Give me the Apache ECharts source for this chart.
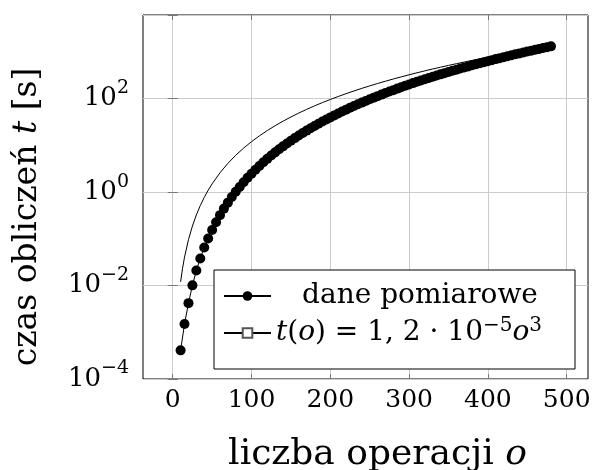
<!DOCTYPE html>
<html><head><meta charset="utf-8">
<script src="https://cdn.jsdelivr.net/npm/echarts@6/dist/echarts.min.js"></script>
<style>html,body{margin:0;padding:0;background:#fff}#c{width:595px;height:470px}</style>
</head><body><div id="c"></div>
<script>
// ---- data ----
const measuredOps = [10,15,20,25,30,35,40,45,50,55,60,65,70,75,80,85,90,95,100,105,110,115,120,125,130,135,140,145,150,155,160,165,170,175,180,185,190,195,200,205,210,215,220,225,230,235,240,245,250,255,260,265,270,275,280,285,290,295,300,305,310,315,320,325,330,335,340,345,350,355,360,365,370,375,380,385,390,395,400,405,410,415,420,425,430,435,440,445,450,455,460,465,470,475,480];
const measuredTimes = [0.00041,0.0015,0.0042,0.0101,0.021,0.038,0.065,0.102,0.155,0.227,0.321,0.443,0.595,0.785,1.02,1.29,1.63,2.02,2.48,3.01,3.63,4.34,5.14,6.06,7.08,8.24,9.53,11.0,12.6,14.3,16.3,18.4,20.7,23.3,26.0,29.1,32.3,35.9,39.7,43.8,48.2,53.0,58.1,63.6,69.4,75.6,82.3,89.4,96.9,105,113,122,132,142,152,164,175,188,201,215,229,244,260,277,294,312,331,351,372,394,417,440,465,490,517,545,574,604,635,667,701,736,772,809,848,888,930,973,1017,1063,1110,1160,1210,1262,1316];
const fitOps = [10,12.5,15,20,25,30,35,40,45,50,60,70,80,90,100,110,120,130,140,150,160,170,180,190,200,210,220,230,240,250,260,270,280,290,300,310,320,330,340,350,360,370,380,390,400,410,420,430,440,450,460,470,480];
const fitTimes = [0.012,0.0234,0.0405,0.096,0.1875,0.324,0.5145,0.768,1.0935,1.5,2.592,4.116,6.144,8.748,12,15.97,20.74,26.36,32.93,40.5,49.15,58.96,69.98,82.31,96,111.1,127.8,146.0,165.9,187.5,210.9,236.2,263.4,292.7,324,357.5,393.2,431.2,471.6,514.5,559.9,607.8,658.5,711.8,768,827.1,889.0,954.1,1022,1094,1168,1246,1327];
const xTickValues = [0,100,200,300,400,500];
const yTickExponents = [-4,-2,0,2];
const legendLabels = ['dane pomiarowe', '{it|t}{n|(}{it|o}{n|) = 1, 2 · 10}{sup|−5}{it|o}{sup|3}'];
const xAxisTitle = '{n|liczba operacji }{it|o}';
const yAxisTitle = '{n|czas obliczeń }{it|t}{n| [s]}';

const FONT = 'DejaVu Serif';
const chart = echarts.init(document.getElementById('c'), null, {renderer: 'canvas'});

function richSet(size, lh) {
  return {
    n: {fontFamily: FONT, fontSize: size, color: '#000', lineHeight: lh},
    it: {fontFamily: FONT, fontSize: size, fontStyle: 'italic', color: '#000', lineHeight: lh},
    sup: {fontFamily: FONT, fontSize: Math.round(size * 0.72), color: '#000', verticalAlign: 'top', lineHeight: Math.round(size * 0.8)},
    c: {fontFamily: FONT, fontSize: size, color: '#000', width: 288, align: 'center', lineHeight: lh}
  };
}

const tickStyle = {inside: true, length: 5, lineStyle: {color: '#777', width: 1}, customValues: xTickValues};

chart.setOption({
  animation: false,
  backgroundColor: '#fff',
  grid: {left: 143, right: 7, top: 15, bottom: 91, show: true, borderColor: '#000', borderWidth: 1,
         backgroundColor: 'transparent', containLabel: false, outerBoundsMode: 'none'},
  xAxis: [{
    type: 'value', min: -37.7, max: 527, position: 'bottom',
    axisLine: {show: false},
    axisTick: tickStyle,
    splitLine: {show: true, lineStyle: {color: '#cccccc', width: 1}},
    axisLabel: {
      margin: 9, fontFamily: FONT, fontSize: 25, color: '#000',
      customValues: xTickValues,
      formatter: v => String(v)
    },
    name: xAxisTitle, nameLocation: 'middle', nameGap: 56,
    nameTextStyle: {fontFamily: FONT, fontSize: 36, color: '#000', padding: [0, 0, 0, 24], rich: richSet(36, 40)}
  }, {
    type: 'value', min: -37.7, max: 527, position: 'top',
    axisLine: {show: false}, axisTick: tickStyle, axisLabel: {show: false}, splitLine: {show: false}
  }],
  yAxis: [{
    type: 'log', logBase: 10, min: 1e-4, max: 6166, interval: 2, position: 'left',
    axisLine: {show: false},
    axisTick: {inside: true, length: 5, lineStyle: {color: '#777', width: 1}},
    splitLine: {show: true, lineStyle: {color: '#cccccc', width: 1}},
    axisLabel: {
      margin: 14, color: '#000',
      formatter: v => {
        const e = Math.log10(v), r = Math.round(e);
        if (Math.abs(e - r) > 1e-6 || yTickExponents.indexOf(r) < 0) return '';
        return '{n|10}{sup|' + (r < 0 ? '−' : '') + Math.abs(r) + '}';
      },
      rich: richSet(26, 40)
    },
    name: yAxisTitle, nameLocation: 'middle', nameGap: 98,
    nameTextStyle: {fontFamily: FONT, fontSize: 33, color: '#000', padding: [0, 40, 0, 0], rich: richSet(33, 36)}
  }, {
    type: 'log', logBase: 10, min: 1e-4, max: 6166, interval: 2, position: 'right',
    axisLine: {show: false}, axisTick: {inside: true, length: 5, lineStyle: {color: '#777', width: 1}}, axisLabel: {show: false}, splitLine: {show: false}
  }],
  legend: {
    left: 214, top: 270, orient: 'vertical',
    backgroundColor: '#fff', borderColor: '#000', borderWidth: 1, borderRadius: 0,
    padding: [12, 11, 22, 9], itemGap: 6, itemWidth: 47, itemHeight: 12,
    data: ['dane', 'fit'],
    formatter: name => name === 'dane' ? '{c|' + legendLabels[0] + '}' : legendLabels[1],
    textStyle: {fontFamily: FONT, fontSize: 28, color: '#000', rich: richSet(28, 34)}
  },
  series: [{
    name: 'dane', type: 'line', xAxisIndex: 0, yAxisIndex: 0,
    data: measuredOps.map((o, i) => [o, measuredTimes[i]]),
    symbol: 'circle', symbolSize: 10, showSymbol: true,
    itemStyle: {color: '#000'}, lineStyle: {color: '#000', width: 1}, z: 3
  }, {
    name: 'fit', type: 'line', xAxisIndex: 0, yAxisIndex: 0,
    data: fitOps.map((o, i) => [o, fitTimes[i]]),
    symbol: 'emptyRect', showSymbol: false, smooth: false,
    itemStyle: {color: '#555'}, lineStyle: {color: '#000', width: 1}, z: 2
  }]
});
</script>
</body></html>
